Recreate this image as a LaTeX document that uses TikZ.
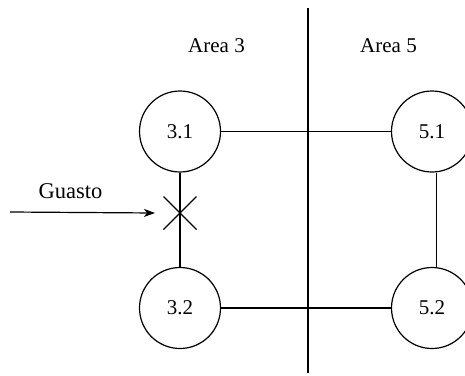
\documentclass[tikz,border=0pt]{standalone}
\usepackage{fontspec}
\setmainfont{Liberation Serif}
\usetikzlibrary{arrows.meta}
\begin{document}
\begin{tikzpicture}[x=1pt,y=-1pt,
  bus/.style={circle,draw,line width=1.2pt,minimum size=81pt,inner sep=0pt,font=\fontsize{21}{24}\selectfont},
  lbl/.style={font=\fontsize{21}{24}\selectfont,anchor=base,inner sep=0pt},
  conn/.style={line width=1.2pt}]
\useasboundingbox (0,0) rectangle (465,375);
\node[bus] (n31) at (180,131.5) {3.1};
\node[bus] (n32) at (180,308) {3.2};
\node[bus] (n51) at (432,131.5) {5.1};
\node[bus] (n52) at (432,308) {5.2};
\node[lbl] (a3) at (216.5,52) {Area 3};
\node[lbl] (a5) at (388.5,52) {Area 5};
\node[lbl,font=\fontsize{22.5}{26}\selectfont] (g) at (70.5,198) {Guasto};
\coordinate (top) at (308,8);
\coordinate (bot) at (308,373);
\coordinate (x) at (180,213);
\coordinate (src) at (10,212);
\draw[conn] (top) -- (bot);
\draw[conn] (n31) -- (n51);
\draw[conn] (n32) -- (n52);
\draw[conn] (n31) -- (n32);
\draw[conn] ([xshift=4.5pt]n51.south) -- ([xshift=4.5pt]n52.north);
\draw[conn] ([shift={(-16.5,-16.5)}]x) -- ([shift={(16.5,16.5)}]x);
\draw[conn] ([shift={(-16.5,16.5)}]x) -- ([shift={(16.5,-16.5)}]x);
\draw[conn,-{Stealth[length=11pt,width=8pt,inset=3pt]}] (src) -- ([xshift=-25pt]x);
\end{tikzpicture}
\end{document}
